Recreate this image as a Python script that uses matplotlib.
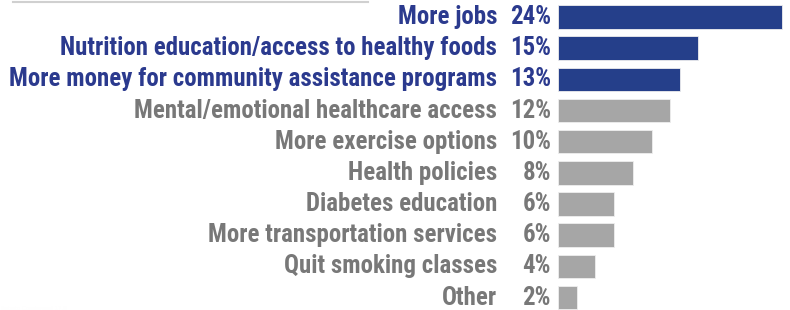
import matplotlib
matplotlib.use("Agg")
import matplotlib.pyplot as plt
from matplotlib import font_manager as fm

avail = {(f.name, f.weight) for f in fm.fontManager.ttflist}
names_bold = {n for n, w in avail if w in (700, "bold")}
fam = next(f for f in ["Roboto Condensed", "Open Sans Condensed", "Fira Sans Condensed",
                       "IBM Plex Sans Condensed", "Liberation Sans"] if f in names_bold)

categories = ["More jobs", "Nutrition education/access to healthy foods",
              "More money for community assistance programs",
              "Mental/emotional healthcare access", "More exercise options",
              "Health policies", "Diabetes education",
              "More transportation services", "Quit smoking classes", "Other"]
values = [24, 15, 13, 12, 10, 8, 6, 6, 4, 2]
highlight = [True, True, True, False, False, False, False, False, False, False]

navy_bar = "#253F8A"
navy_txt = "#2B3A8E"
gray_bar = "#A6A6A6"
gray_txt = "#787878"

W, H = 790, 310
fig = plt.figure(figsize=(W / 100, H / 100), dpi=100)
ax = fig.add_axes([558 / W, 0, (W - 558) / W, 1])
ax.set_xlim(0, 232 / 9.35)
ax.set_ylim(9.40, -0.545)
ax.axis("off")

# calibrate font size so the longest label spans ~487 px
renderer = fig.canvas.get_renderer()
probe = fig.text(0, 0, categories[2], fontsize=16, fontweight="bold", family=fam)
w = probe.get_window_extent(renderer).width
probe.remove()
fs = 16 * 487 / w

ys = list(range(len(categories)))
colors_b = [navy_bar if h else gray_bar for h in highlight]
ax.barh(ys, values, height=0.754, color=colors_b, edgecolor="#EEEEEE", linewidth=0.6)

for y, cat, v, h in zip(ys, categories, values, highlight):
    c = navy_txt if h else gray_txt
    ax.annotate(cat, xy=(0, y), xytext=(-61 * 0.72, 0), textcoords="offset points",
                ha="right", va="center", fontsize=fs, fontweight="bold",
                family=fam, color=c, annotation_clip=False)
    ax.annotate(f"{v}%", xy=(0, y), xytext=(-7 * 0.72, 0), textcoords="offset points",
                ha="right", va="center", fontsize=fs, fontweight="bold",
                family=fam, color=c, annotation_clip=False)

fig.add_artist(plt.Line2D([13 / W, 368 / W], [1 - 2 / H, 1 - 2 / H],
                          color="#D0D0D0", linewidth=1.5))
fig.text(0.001, 0.001, f"{fam} {fs:.1f}", fontsize=4, color="#fefefe")

fig.savefig("out.png", dpi=100)
